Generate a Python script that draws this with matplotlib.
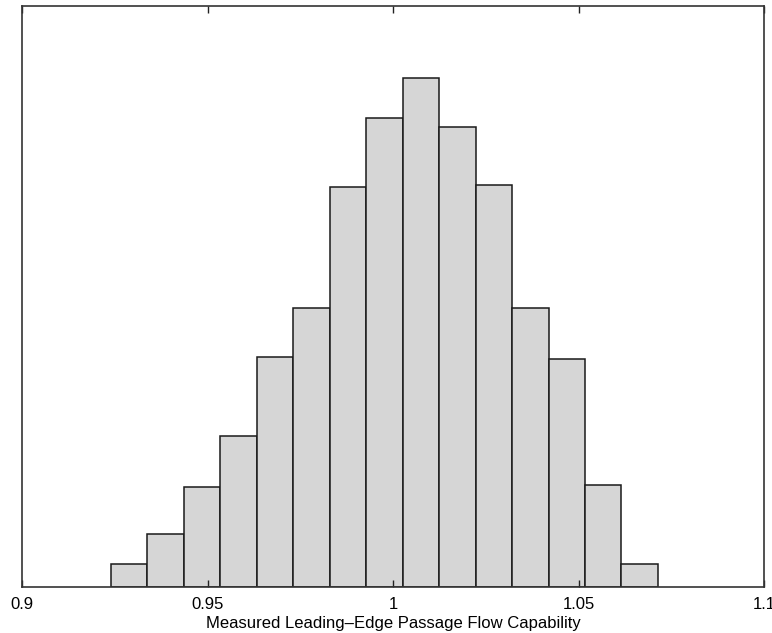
import matplotlib.pyplot as plt
import numpy as np

# histogram of measured leading-edge passage flow capability
bin_lo = 0.9240
bin_hi = 1.0714
counts = [10, 23, 43, 65, 99, 120, 172, 202, 219, 198, 173, 120, 98, 44, 10]
xticks = [0.9, 0.95, 1.0, 1.05, 1.1]
xticklabels = ['0.9', '0.95', '1', '1.05', '1.1']

plt.rcParams['font.family'] = ['Liberation Sans', 'DejaVu Sans']

edges = np.linspace(bin_lo, bin_hi, len(counts) + 1)

fig = plt.figure(figsize=(7.72, 6.33), dpi=100)
ax = fig.add_axes([22 / 772, 46 / 633, 742 / 772, 581 / 633])

ax.bar(edges[:-1], counts, width=np.diff(edges), align='edge',
       color='#d6d6d6', edgecolor='#1a1a1a', linewidth=1.1)

ax.set_xlim(0.9, 1.1)
ax.set_ylim(0, 250)
ax.set_xticks(xticks)
ax.set_xticklabels(xticklabels)
ax.set_yticks([])
ax.tick_params(axis='x', direction='in', top=True, length=5, width=1,
               pad=7, labelsize=12, color='#222222')

for s in ax.spines.values():
    s.set_linewidth(1.2)
    s.set_color('#333333')

ax.set_xlabel('Measured Leading\u2013Edge Passage Flow Capability',
              fontsize=12, labelpad=3)

fig.savefig('out.png', dpi=100)
